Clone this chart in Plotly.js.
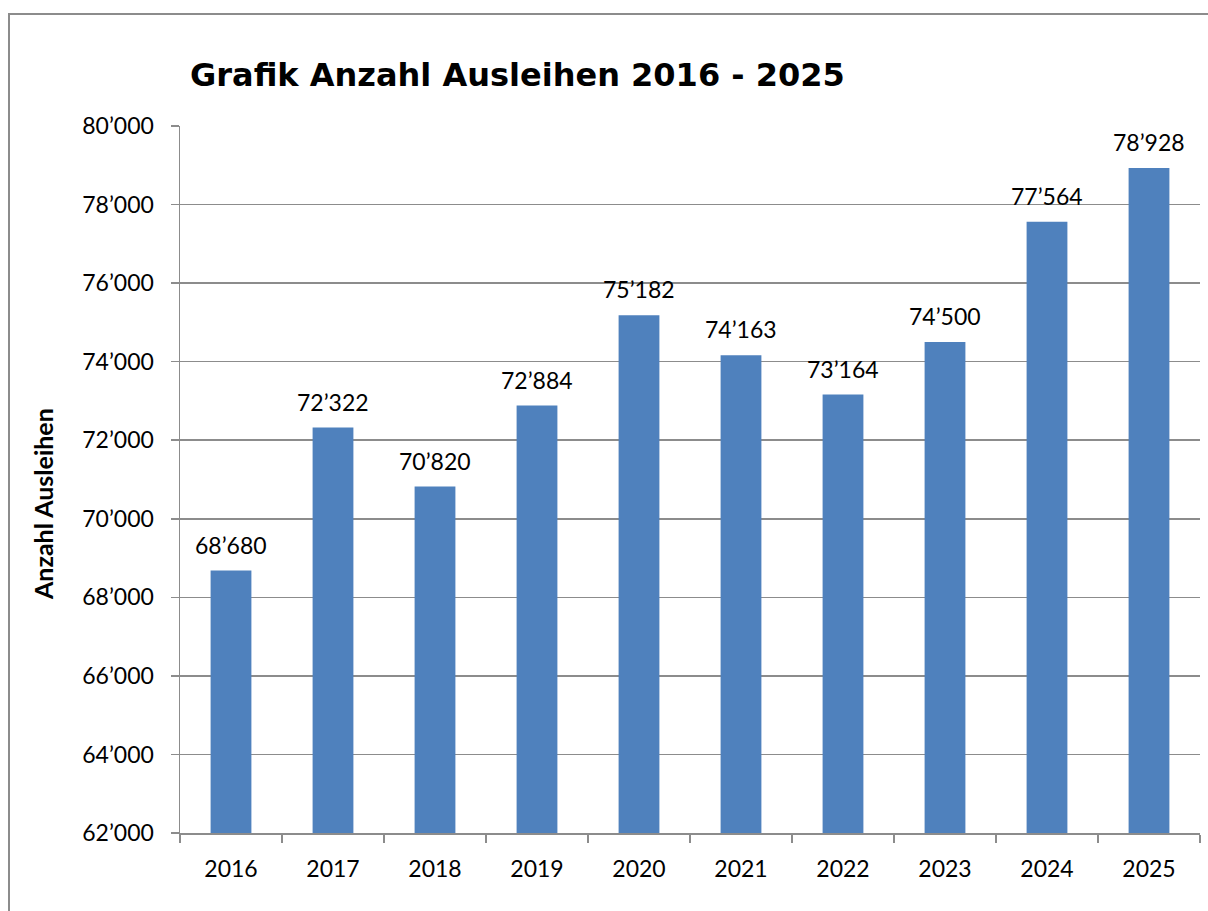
<!DOCTYPE html>
<html>
<head>
<meta charset="utf-8">
<script src="https://cdn.plot.ly/plotly-3.0.1.min.js"></script>
<style>
  body { margin: 0; background: #fff; }
  #chart { width: 1208px; height: 911px; }
  #rahmen {
    position: absolute; left: 8px; top: 13px; width: 1300px; height: 1000px;
    border-left: 2px solid #8c8c8c; border-top: 2px solid #8c8c8c;
    pointer-events: none;
  }
</style>
</head>
<body>
<div id="chart"></div>
<div id="rahmen"></div>
<script>
// Daten: Anzahl Ausleihen pro Jahr
const jahre = ['2016', '2017', '2018', '2019', '2020', '2021', '2022', '2023', '2024', '2025'];
const ausleihen = [68680, 72322, 70820, 72884, 75182, 74163, 73164, 74500, 77564, 78928];

// Tausendertrennzeichen im Schweizer Stil
function formatZahl(n) {
    return String(n).replace(/\B(?=(\d{3})+(?!\d))/g, '\u2019');
}

const trace = {
    x: jahre,
    y: ausleihen,
    type: 'bar',
    marker: { color: '#4F81BD' },
    hoverinfo: 'x+y'
};

// Beschriftungen über den Balken (x = Index der Kategorie)
const labels = jahre.map((j, i) => ({
    x: i,
    y: ausleihen[i],
    text: formatZahl(ausleihen[i]),
    showarrow: false,
    yanchor: 'bottom',
    yshift: 10,
    font: { family: 'Lato, sans-serif', size: 23, color: '#000' }
}));

labels.push({
    text: '<b>Anzahl Ausleihen</b>',
    xref: 'paper', yref: 'paper',
    x: (43 - 180) / 1020, y: (833 - 504) / 707,
    xanchor: 'center', yanchor: 'middle',
    textangle: -90,
    showarrow: false,
    font: { family: 'Lato, sans-serif', size: 25, color: '#000' }
});

const layout = {
    width: 1208,
    height: 911,
    margin: { l: 180, r: 8, t: 126, b: 78 },
    paper_bgcolor: '#fff',
    plot_bgcolor: '#fff',
    separators: '.\u2019',
    showlegend: false,
    bargap: 0.6,
    title: {
        text: '<b>Grafik Anzahl Ausleihen 2016 - 2025</b>',
        xref: 'container', yref: 'container',
        x: 190 / 1208, xanchor: 'left',
        y: 1 - 75 / 911, yanchor: 'middle',
        font: { family: 'DejaVu Sans, Verdana, sans-serif', size: 32, color: '#000' }
    },
    xaxis: {
        type: 'category',
        range: [-0.5, jahre.length - 0.5],
        showline: true,
        linecolor: '#8c8c8c',
        linewidth: 1.5,
        ticks: 'outside',
        tickson: 'boundaries',
        ticklen: 8,
        tickcolor: '#8c8c8c',
        tickwidth: 1.5,
        showgrid: false,
        ticklabelstandoff: 15,
        tickangle: 0,
        tickfont: { family: 'Lato, sans-serif', size: 23, color: '#000' }
    },
    yaxis: {
        range: [62000, 80000],
        dtick: 2000,
        tickformat: ',d',
        showline: true,
        linecolor: '#8c8c8c',
        linewidth: 1.5,
        ticks: 'outside',
        ticklen: 8,
        tickcolor: '#8c8c8c',
        tickwidth: 1.5,
        gridcolor: '#8c8c8c',
        gridwidth: 1.5,
        zeroline: false,
        ticklabelstandoff: 12,
        tickfont: { family: 'Lato, sans-serif', size: 23, color: '#000' }
    },
    annotations: labels
};

Plotly.newPlot('chart', [trace], layout, { displayModeBar: false, staticPlot: true });
</script>
</body>
</html>
